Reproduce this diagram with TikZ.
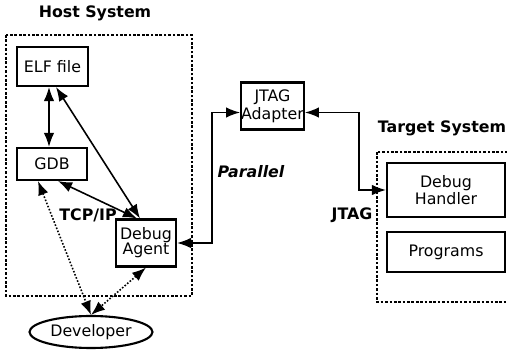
\documentclass[tikz,border=0pt]{standalone}
\usepackage{fontspec}
\setmainfont{DejaVu Sans}
\usepackage{tikz}
\usetikzlibrary{arrows.meta,shapes}

\tikzset{
  blk/.style={draw, line width=1.2pt, align=center, inner sep=0pt, font=\fontsize{9}{10}\selectfont},
  link/.style={line width=0.9pt, >={Latex[length=8pt,width=6pt]}},
  dlink/.style={line width=0.9pt, densely dotted, >={Latex[length=8pt,width=6pt]}},
  area/.style={line width=1.5pt, densely dotted},
  lbl/.style={font=\fontsize{9}{10}\selectfont\bfseries}
}

\begin{document}
\begin{tikzpicture}[x=0.02cm, y=-0.02cm]
\useasboundingbox (0,0) rectangle (507,354);

\draw [area] (6,35) rectangle (192,296);
\draw [area] (377,152) rectangle (512,302);
\node [lbl] (host) at (95,13) {Host System};
\node [lbl] (target) at (442,128) {Target System};

\node [blk, minimum width=1.42cm, minimum height=0.78cm] (elf) at (52.5,66.5) {ELF file};
\node [blk, minimum width=1.40cm, minimum height=0.64cm] (gdb) at (52,164) {GDB};
\node [blk, minimum width=1.20cm, minimum height=0.94cm, font=\fontsize{9}{8.6}\selectfont] (agent) at (146,243) {Debug\\Agent};
\node [blk, minimum width=1.14cm, minimum height=0.94cm] (adapter) at (272.5,106) {JTAG\\Adapter};
\node [blk, minimum width=2.36cm, minimum height=1.08cm] (handler) at (446,190) {Debug\\Handler};
\node [blk, minimum width=2.36cm, minimum height=0.80cm] (prog) at (446,252) {Programs};
\node [draw, ellipse, line width=1.2pt, minimum width=2.46cm, minimum height=0.64cm, inner sep=0pt, font=\fontsize{9}{10}\selectfont] (dev) at (91,332) {Developer};

\draw [link, <->] ([xshift=-0.07cm]elf.south) -- ([xshift=-0.06cm]gdb.north);
\draw [link, <->] ([xshift=0.07cm]elf.south) -- ([xshift=-0.12cm]agent.north);
\draw [link, <->] ([xshift=0.12cm]gdb.south) -- ([xshift=-0.18cm]agent.north);
\draw [dlink, <->] ([xshift=-0.28cm]gdb.south) -- (dev.north);
\draw [dlink, <->] (agent.south) -- (dev.north);

\draw [link, <->] (agent.east) -- ++(35,0) |- ([yshift=-0.13cm]adapter.west);
\draw [link, <->] ([yshift=-0.13cm]adapter.east) -- ++(54,0) |- (handler.west);

\node [lbl] (tcp) at (88,215) {TCP/IP};
\node [lbl, font=\fontsize{9}{10}\selectfont\bfseries\itshape] (par) at (251,172) {Parallel};
\node [lbl] (jtag) at (352,215) {JTAG};

\end{tikzpicture}
\end{document}
